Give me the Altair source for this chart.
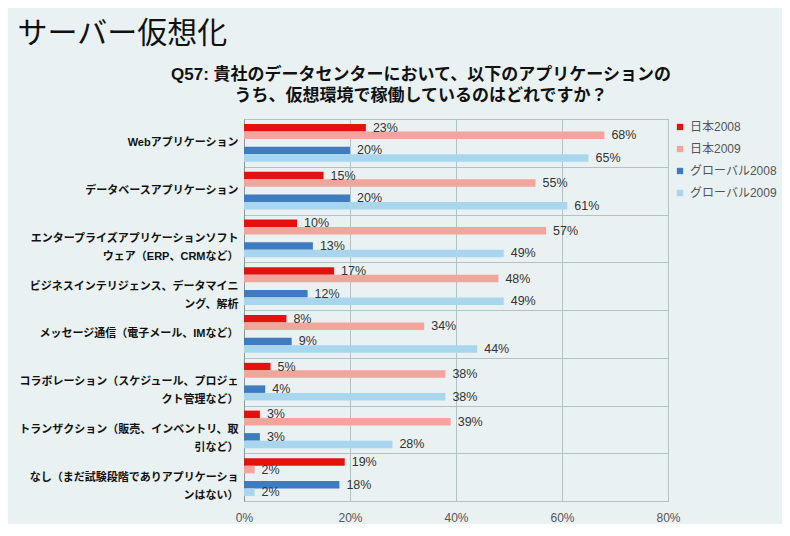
import altair as alt
import pandas as pd

categories = [
    "Webアプリケーション",
    "データベースアプリケーション",
    "エンタープライズアプリケーションソフト|ウェア（ERP、CRMなど）",
    "ビジネスインテリジェンス、データマイニ|ング、解析",
    "メッセージ通信（電子メール、IMなど）",
    "コラボレーション（スケジュール、プロジェ|クト管理など）",
    "トランザクション（販売、インベントリ、取|引など）",
    "なし（まだ試験段階でありアプリケーショ|ンはない）",
]
series = ["日本2008", "日本2009", "グローバル2008", "グローバル2009"]
jp2008 = [23, 15, 10, 17, 8, 5, 3, 19]
jp2009 = [68, 55, 57, 48, 34, 38, 39, 2]
gl2008 = [20, 20, 13, 12, 9, 4, 3, 18]
gl2009 = [65, 61, 49, 49, 44, 38, 28, 2]
colors = ["#e3120f", "#f2a59c", "#3f7bbf", "#a9d6ef"]
x_ticks = [0, 20, 40, 60, 80]

main_title = "サーバー仮想化"
question = ["Q57:  貴社のデータセンターにおいて、以下のアプリケーションの",
            "うち、仮想環境で稼働しているのはどれですか？"]

rows = []
for s, vals in zip(series, [jp2008, jp2009, gl2008, gl2009]):
    for c, v in zip(categories, vals):
        rows.append({"category": c, "series": s, "value": v, "label": f"{v}%"})
df = pd.DataFrame(rows)

FONT = "Liberation Sans, Noto Sans CJK JP"

y_enc = alt.Y(
    "category:N", sort=categories,
    scale=alt.Scale(paddingInner=0, paddingOuter=0),
    axis=alt.Axis(title=None, labelExpr="split(datum.label, '|')", ticks=False,
                  tickBand="extent", grid=True, gridColor="#b3c2c5",
                  labelFontSize=11, labelFontWeight="bold", labelColor="#111111",
                  labelLineHeight=18, labelPadding=6, domainColor="#8a9698",
                  labelLimit=400, labelFont=FONT),
)
yoff_enc = alt.YOffset(
    "series:N",
    scale=alt.Scale(domain=[series[0], series[1], "_gap", series[2], series[3]],
                    paddingInner=0, paddingOuter=0.68),
)
x_enc = alt.X(
    "value:Q", scale=alt.Scale(domain=[0, 80]),
    axis=alt.Axis(values=x_ticks, labelExpr="datum.value + '%'", title=None,
                  ticks=False, grid=True, gridColor="#b3c2c5", domain=False,
                  labelPadding=11, labelFontSize=12, labelColor="#555555",
                  labelFlush=False, labelFont=FONT),
)
color_enc = alt.Color(
    "series:N", scale=alt.Scale(domain=series, range=colors),
    legend=alt.Legend(title=None, orient="none", legendX=430, legendY=2,
                      symbolType="square", symbolSize=40, labelFontSize=12,
                      labelColor="#555555", rowPadding=10, symbolStrokeWidth=0,
                      padding=0, labelFont=FONT),
)

base = alt.Chart(df)
bars = base.mark_bar().encode(x=x_enc, y=y_enc, yOffset=yoff_enc, color=color_enc)
texts = base.mark_text(align="left", baseline="middle", dx=7, fontSize=12.5,
                       color="#333333", font=FONT).encode(
    x="value:Q", y=alt.Y("category:N", sort=categories), yOffset="series:N",
    text="label:N")

inner = alt.layer(bars, texts).properties(
    width=424, height=382,
    title=alt.TitleParams(question, anchor="middle", fontSize=17, fontWeight="bold",
                          lineHeight=21, offset=8, dx=-35, color="#111111", font=FONT),
)

chart = alt.vconcat(
    inner,
    title=alt.TitleParams(main_title, anchor="start", fontSize=30, fontWeight="normal",
                          color="#111111", font=FONT, offset=17),
).properties(
    padding={"left": 9, "top": 10, "right": 5, "bottom": 0}
).configure(background="#e9f1f2", font=FONT).configure_view(stroke="#a7b5b8")

chart.save("out.html", embed_options={"renderer": "svg", "actions": False})
